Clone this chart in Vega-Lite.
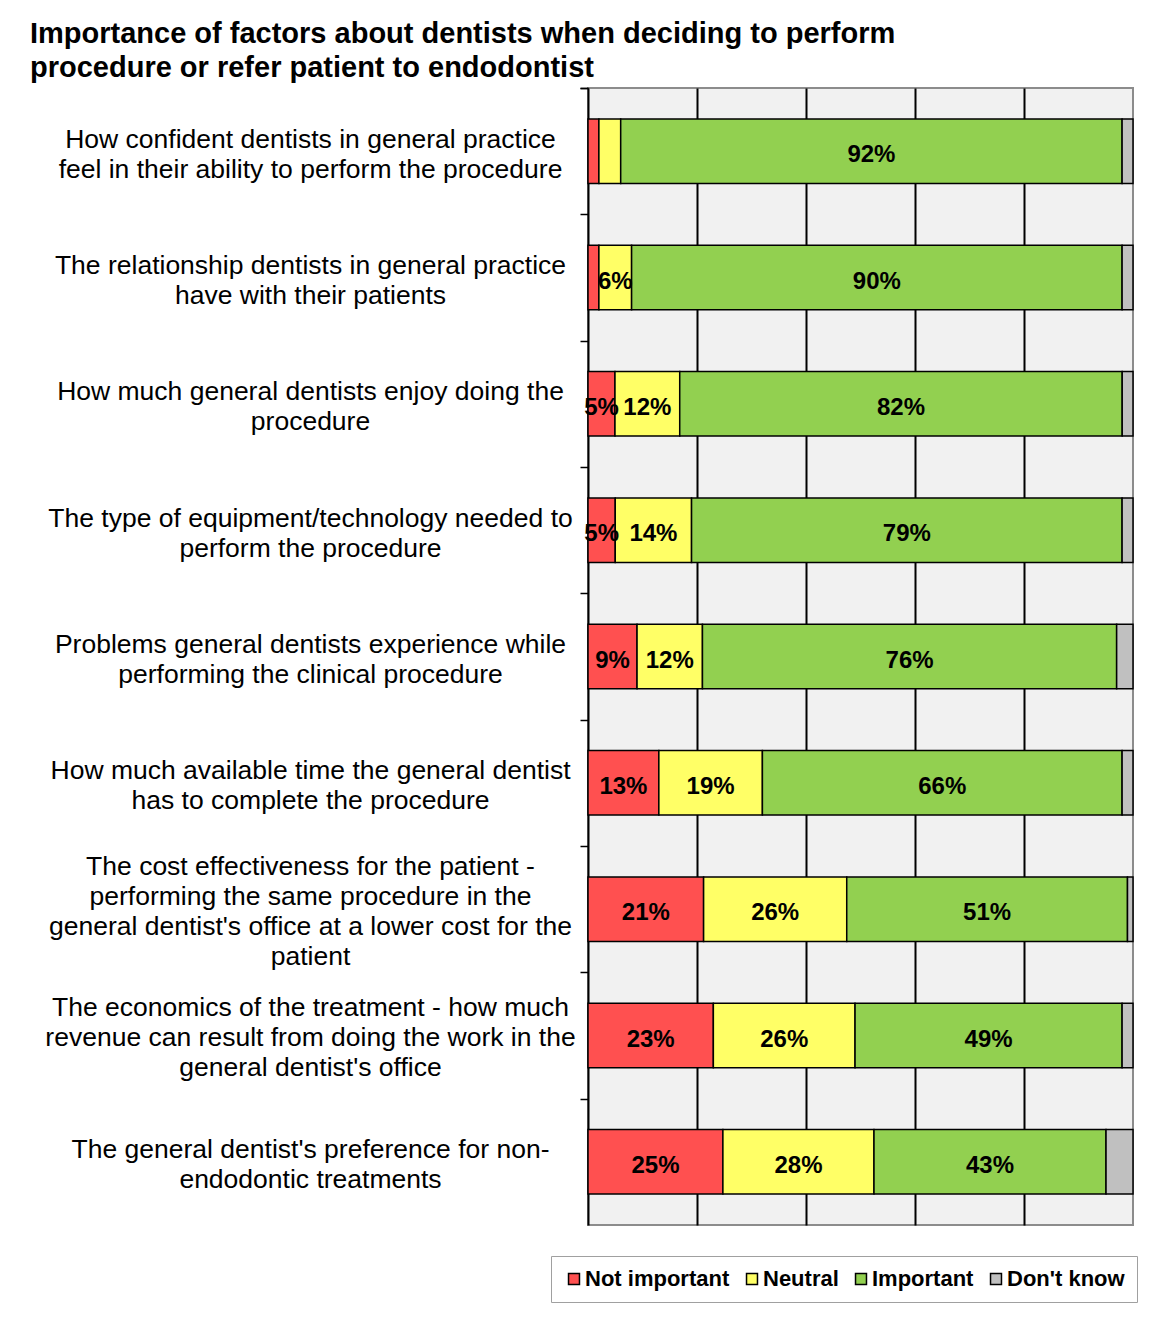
{
  "$schema": "https://vega.github.io/schema/vega-lite/v6.json",
  "width": 545,
  "height": 1137,
  "autosize": {"type": "none"},
  "padding": {"left": 588, "top": 88, "right": 18, "bottom": 107},
  "background": "white",
  "title": {
    "text": ["Importance of factors about dentists when deciding to perform", "procedure or refer patient to endodontist"],
    "anchor": "start",
    "frame": "group",
    "dx": -558,
    "dy": 12,
    "offset": 4,
    "font": "Liberation Sans",
    "fontSize": 29,
    "fontWeight": "bold",
    "color": "black",
    "lineHeight": 34
  },
  "config": {
    "view": {"stroke": "#8c8c8c", "strokeWidth": 2, "fill": "#f1f1f1"}
  },
  "data": {
    "values": [
      {"factor": "How confident dentists in general practice|feel in their ability to perform the procedure", "answer": "Not important", "value": 0.02},
      {"factor": "How confident dentists in general practice|feel in their ability to perform the procedure", "answer": "Neutral", "value": 0.04},
      {"factor": "How confident dentists in general practice|feel in their ability to perform the procedure", "answer": "Important", "value": 0.92},
      {"factor": "How confident dentists in general practice|feel in their ability to perform the procedure", "answer": "Don't know", "value": 0.02},
      {"factor": "The relationship dentists in general practice|have with their patients", "answer": "Not important", "value": 0.02},
      {"factor": "The relationship dentists in general practice|have with their patients", "answer": "Neutral", "value": 0.06},
      {"factor": "The relationship dentists in general practice|have with their patients", "answer": "Important", "value": 0.90},
      {"factor": "The relationship dentists in general practice|have with their patients", "answer": "Don't know", "value": 0.02},
      {"factor": "How much general dentists enjoy doing the|procedure", "answer": "Not important", "value": 0.05},
      {"factor": "How much general dentists enjoy doing the|procedure", "answer": "Neutral", "value": 0.12},
      {"factor": "How much general dentists enjoy doing the|procedure", "answer": "Important", "value": 0.82},
      {"factor": "How much general dentists enjoy doing the|procedure", "answer": "Don't know", "value": 0.02},
      {"factor": "The type of equipment/technology needed to|perform the procedure", "answer": "Not important", "value": 0.05},
      {"factor": "The type of equipment/technology needed to|perform the procedure", "answer": "Neutral", "value": 0.14},
      {"factor": "The type of equipment/technology needed to|perform the procedure", "answer": "Important", "value": 0.79},
      {"factor": "The type of equipment/technology needed to|perform the procedure", "answer": "Don't know", "value": 0.02},
      {"factor": "Problems general dentists experience while|performing the clinical procedure", "answer": "Not important", "value": 0.09},
      {"factor": "Problems general dentists experience while|performing the clinical procedure", "answer": "Neutral", "value": 0.12},
      {"factor": "Problems general dentists experience while|performing the clinical procedure", "answer": "Important", "value": 0.76},
      {"factor": "Problems general dentists experience while|performing the clinical procedure", "answer": "Don't know", "value": 0.03},
      {"factor": "How much available time the general dentist|has to complete the procedure", "answer": "Not important", "value": 0.13},
      {"factor": "How much available time the general dentist|has to complete the procedure", "answer": "Neutral", "value": 0.19},
      {"factor": "How much available time the general dentist|has to complete the procedure", "answer": "Important", "value": 0.66},
      {"factor": "How much available time the general dentist|has to complete the procedure", "answer": "Don't know", "value": 0.02},
      {"factor": "The cost effectiveness for the patient -|performing the same procedure in the|general dentist's office at a lower cost for the|patient", "answer": "Not important", "value": 0.21},
      {"factor": "The cost effectiveness for the patient -|performing the same procedure in the|general dentist's office at a lower cost for the|patient", "answer": "Neutral", "value": 0.26},
      {"factor": "The cost effectiveness for the patient -|performing the same procedure in the|general dentist's office at a lower cost for the|patient", "answer": "Important", "value": 0.51},
      {"factor": "The cost effectiveness for the patient -|performing the same procedure in the|general dentist's office at a lower cost for the|patient", "answer": "Don't know", "value": 0.01},
      {"factor": "The economics of the treatment - how much|revenue can result from doing the work in the|general dentist's office", "answer": "Not important", "value": 0.23},
      {"factor": "The economics of the treatment - how much|revenue can result from doing the work in the|general dentist's office", "answer": "Neutral", "value": 0.26},
      {"factor": "The economics of the treatment - how much|revenue can result from doing the work in the|general dentist's office", "answer": "Important", "value": 0.49},
      {"factor": "The economics of the treatment - how much|revenue can result from doing the work in the|general dentist's office", "answer": "Don't know", "value": 0.02},
      {"factor": "The general dentist's preference for non-|endodontic treatments", "answer": "Not important", "value": 0.25},
      {"factor": "The general dentist's preference for non-|endodontic treatments", "answer": "Neutral", "value": 0.28},
      {"factor": "The general dentist's preference for non-|endodontic treatments", "answer": "Important", "value": 0.43},
      {"factor": "The general dentist's preference for non-|endodontic treatments", "answer": "Don't know", "value": 0.05}
    ]
  },
  "encoding": {
    "y": {
      "field": "factor",
      "type": "nominal",
      "sort": null,
      "scale": {"paddingInner": 0.49, "paddingOuter": 0.245},
      "axis": {
        "title": null,
        "domainColor": "black",
        "domainWidth": 2,
        "tickColor": "black",
        "tickWidth": 1.5,
        "tickSize": 8,
        "bandPosition": 0,
        "tickOffset": -31,
        "tickExtra": true,
        "labelExpr": "split(datum.label, '|')",
        "labelAlign": "center",
        "labelBaseline": "middle",
        "labelPadding": 270,
        "labelOffset": {
          "condition": [
            {"test": "length(split(datum.value, '|')) == 4", "value": -12},
            {"test": "length(split(datum.value, '|')) == 3", "value": 3}
          ],
          "value": 19
        },
        "labelFont": "Liberation Sans",
        "labelFontSize": 26.5,
        "labelColor": "black",
        "labelLineHeight": 30,
        "labelLimit": 700
      }
    },
    "x": {
      "field": "value",
      "type": "quantitative",
      "stack": "normalize",
      "scale": {"domain": [0, 1]},
      "axis": {
        "title": null,
        "values": [0.2, 0.4, 0.6, 0.8],
        "grid": true,
        "gridColor": "black",
        "gridWidth": 2,
        "labels": false,
        "ticks": false,
        "domain": false
      }
    },
    "order": {"field": "answer", "sort": "descending"}
  },
  "layer": [
    {
      "mark": {"type": "bar", "stroke": "black", "strokeWidth": 1.5},
      "encoding": {
        "color": {
          "field": "answer",
          "type": "nominal",
          "sort": ["Not important", "Neutral", "Important", "Don't know"],
          "scale": {
            "domain": ["Not important", "Neutral", "Important", "Don't know"],
            "range": ["#ff5050", "#ffff66", "#92d050", "#c0c0c0"]
          },
          "legend": {
            "title": null,
            "orient": "none",
            "legendX": -37,
            "legendY": 1168,
            "direction": "horizontal",
            "symbolType": "square",
            "symbolSize": 120,
            "symbolStrokeColor": "black",
            "symbolStrokeWidth": 1.5,
            "labelFont": "Liberation Sans",
            "labelFontSize": 22,
            "labelFontWeight": "bold",
            "labelColor": "black",
            "labelOffset": 0,
            "columnPadding": 11,
            "padding": 12,
            "strokeColor": "#a0a0a0",
            "fillColor": "white",
            "labelLimit": 300
          }
        }
      }
    },
    {
      "mark": {"type": "text", "font": "Liberation Sans", "fontSize": 24, "fontWeight": "bold", "color": "black", "baseline": "middle", "dy": 4},
      "encoding": {
        "x": {"field": "value", "type": "quantitative", "stack": "normalize", "bandPosition": 0.5},
        "detail": {"field": "answer"},
        "text": {
          "condition": {"test": "datum.value >= 0.05 && datum.answer != \"Don't know\"", "field": "value", "type": "quantitative", "format": ".0%"},
          "value": ""
        }
      }
    }
  ]
}
